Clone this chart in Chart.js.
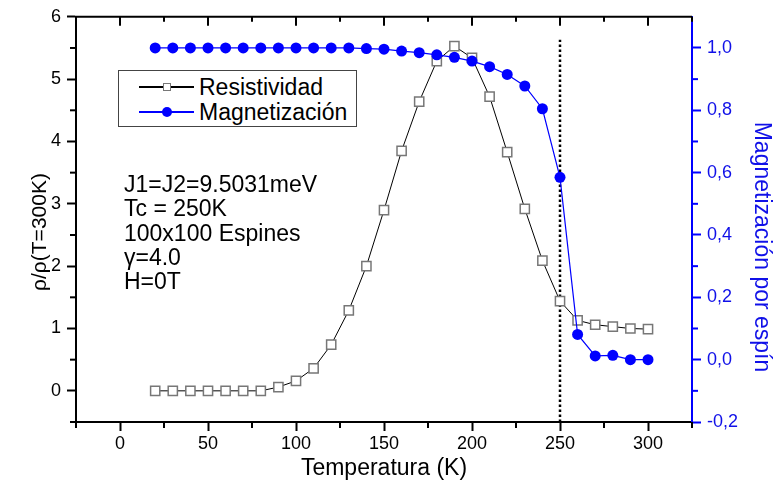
<!DOCTYPE html>
<html>
<head>
<meta charset="utf-8">
<title>Resistividad y magnetización</title>
<script src="https://cdn.jsdelivr.net/npm/chart.js@4.4.1/dist/chart.umd.min.js"></script>
<style>
  body { margin: 0; background: #fff; font-family: "Liberation Sans", Arial, sans-serif; }
  #wrap { position: relative; width: 774px; height: 491px; }
  #legend {
    position: absolute; left: 118px; top: 70px; width: 239px; height: 57px;
    border: 1px solid #444; background: #fff; box-sizing: border-box;
  }
  .row { position: absolute; left: 0; width: 100%; height: 26px; }
  .row .line { position: absolute; left: 20px; width: 55px; top: 12px; height: 0; border-top: 2px solid #000; }
  .row .mk { position: absolute; box-sizing: border-box; }
  .row .txt { position: absolute; left: 80px; top: 0; line-height: 26px; font-size: 23px; color: #000; white-space: nowrap; }
  #notes {
    position: absolute; left: 124px; top: 172px; font-size: 23px; line-height: 24.3px; color: #000;
  }
</style>
</head>
<body>
<div id="wrap">
  <canvas id="chart"></canvas>
  <div id="legend">
    <div class="row" style="top:3px">
      <span class="line"></span>
      <span class="mk" style="left:44px;top:9px;width:8px;height:8px;border:1px solid #777;background:#fff"></span>
      <span class="txt">Resistividad</span>
    </div>
    <div class="row" style="top:28px">
      <span class="line" style="border-top-color:#0000ff"></span>
      <span class="mk" style="left:43px;top:8px;width:10px;height:10px;border-radius:50%;background:#0000ff"></span>
      <span class="txt">Magnetización</span>
    </div>
  </div>
  <div id="notes">
    J1=J2=9.5031meV<br>
    Tc = 250K<br>
    100x100 Espines<br>
    γ=4.0<br>
    H=0T
  </div>
</div>
<script>
  // data
  const temps = [20, 30, 40, 50, 60, 70, 80, 90, 100, 110, 120, 130, 140, 150, 160,
    170, 180, 190, 200, 210, 220, 230, 240, 250, 260, 270, 280, 290, 300];
  const resistividad = [0, 0, 0, 0, 0, 0, 0, 0.06, 0.16, 0.36, 0.74, 1.29, 2.0, 2.9, 3.85,
    4.64, 5.29, 5.53, 5.34, 4.72, 3.83, 2.92, 2.09, 1.44, 1.13, 1.06, 1.03, 1.0, 0.99];
  const magnetizacion = [1.0, 1.0, 1.0, 1.0, 1.0, 1.0, 1.0, 1.0, 1.0, 1.0, 1.0, 1.0, 0.998, 0.996, 0.99,
    0.985, 0.978, 0.97, 0.958, 0.94, 0.915, 0.878, 0.805, 0.585, 0.081, 0.012, 0.014, 0.0, 0.0];
  const tcLine = [{ x: 250, y: -0.5 }, { x: 250, y: 5.63 }];

  const xTicks = [0, 50, 100, 150, 200, 250, 300];
  const leftTicks = [0, 1, 2, 3, 4, 5, 6];
  const rightTicks = [-0.2, 0, 0.2, 0.4, 0.6, 0.8, 1.0];

  const BLUE = "#0000ff";
  Chart.defaults.font.family = "'Liberation Sans', Arial, sans-serif";

  function setTicks(list) {
    return (scale) => { scale.ticks = list.map((v) => ({ value: v })); };
  }

  // frame top line, minor ticks and vertical axis titles
  const axisExtras = {
    id: "axisExtras",
    afterDraw(chart) {
      const { ctx, chartArea: a, scales } = chart;
      ctx.save();
      ctx.lineWidth = 2;
      ctx.strokeStyle = "#000";
      ctx.beginPath();
      ctx.moveTo(a.left - 1, a.top);
      ctx.lineTo(a.right, a.top);
      ctx.stroke();

      function tick(x1, y1, x2, y2) {
        ctx.beginPath();
        ctx.moveTo(x1, y1);
        ctx.lineTo(x2, y2);
        ctx.stroke();
      }

      // x: minor ticks below, top ticks inward
      const sx = scales.x;
      for (let v = sx.min; v <= sx.max + 1e-9; v += 50) {
        const px = sx.getPixelForValue(v);
        tick(px, a.bottom, px, a.bottom + 6);
        tick(px, a.top, px, a.top + 5);
      }
      xTicks.forEach((v) => {
        const px = sx.getPixelForValue(v);
        tick(px, a.top, px, a.top + 9);
      });

      // left minor ticks
      const sy = scales.y;
      for (let v = -0.5; v < sy.max; v += 1) {
        const py = sy.getPixelForValue(v);
        tick(a.left, py, a.left - 6, py);
      }

      // right minor ticks
      const sr = scales.y1;
      ctx.strokeStyle = BLUE;
      for (let k = 0; k < 7; k++) {
        const v = -0.1 + 0.2 * k;
        if (v >= sr.max - 1e-9) break;
        const py = sr.getPixelForValue(v);
        tick(a.right, py, a.right + 6, py);
      }

      // vertical titles
      ctx.textAlign = "center";
      ctx.textBaseline = "middle";
      ctx.fillStyle = "#000";
      ctx.font = "21px 'Liberation Sans', Arial, sans-serif";
      ctx.save();
      ctx.translate(40, 232);
      ctx.rotate(-Math.PI / 2);
      ctx.fillText("ρ/ρ(T=300K)", 0, 0);
      ctx.restore();

      ctx.fillStyle = "#1010e8";
      ctx.font = "23px 'Liberation Sans', Arial, sans-serif";
      ctx.save();
      ctx.translate(761, 247);
      ctx.rotate(Math.PI / 2);
      ctx.fillText("Magnetización por espín", 0, 0);
      ctx.restore();
      ctx.restore();
    },
  };

  new Chart(document.getElementById("chart"), {
    type: "line",
    data: {
      datasets: [
        {
          label: "Magnetización",
          data: temps.map((t, i) => ({ x: t, y: magnetizacion[i] })),
          yAxisID: "y1",
          borderColor: BLUE,
          borderWidth: 1.2,
          backgroundColor: BLUE,
          pointStyle: "circle",
          pointRadius: 5.5,
          pointBorderWidth: 0,
          pointBackgroundColor: BLUE,
          tension: 0,
        },
        {
          label: "Resistividad",
          data: temps.map((t, i) => ({ x: t, y: resistividad[i] })),
          yAxisID: "y",
          borderColor: "#000",
          borderWidth: 1,
          pointStyle: "rect",
          pointRadius: 6.5,
          pointBorderWidth: 1.5,
          pointBorderColor: "#777",
          pointBackgroundColor: "#fff",
          tension: 0,
        },
        {
          label: "Tc",
          data: tcLine,
          yAxisID: "y",
          borderColor: "#000",
          borderWidth: 2.5,
          borderDash: [2.5, 2.5],
          pointRadius: 0,
        },
      ],
    },
    options: {
      responsive: true,
      maintainAspectRatio: false,
      animation: false,
      layout: { padding: { top: 14, left: 0, right: 0, bottom: 0 } },
      plugins: { legend: { display: false }, tooltip: { enabled: false } },
      scales: {
        x: {
          type: "linear",
          position: "bottom",
          min: -25,
          max: 325,
          afterBuildTicks: setTicks(xTicks),
          afterFit: (s) => { s.height = 69; },
          ticks: { color: "#000", font: { size: 18 }, padding: 2, maxRotation: 0, autoSkip: false },
          grid: { drawOnChartArea: false, tickLength: 9, tickWidth: 2, tickColor: "#000" },
          border: { color: "#000", width: 2 },
          title: { display: true, text: "Temperatura (K)", color: "#000", font: { size: 23 }, padding: { top: 0, bottom: 9 } },
        },
        y: {
          type: "linear",
          position: "left",
          min: -0.5,
          max: 6,
          afterBuildTicks: setTicks(leftTicks),
          afterFit: (s) => { s.width = 76; },
          ticks: { color: "#000", font: { size: 18 }, padding: 6 },
          grid: { drawOnChartArea: false, tickLength: 9, tickWidth: 2, tickColor: "#000" },
          border: { color: "#000", width: 2 },
        },
        y1: {
          type: "linear",
          position: "right",
          min: -0.2,
          max: 1.1,
          afterBuildTicks: setTicks(rightTicks),
          afterFit: (s) => { s.width = 82; },
          ticks: {
            color: "#1010e8",
            font: { size: 18 },
            padding: 6,
            callback: (v) => v.toFixed(1).replace(".", ","),
          },
          grid: { drawOnChartArea: false, tickLength: 9, tickWidth: 2, tickColor: BLUE },
          border: { color: BLUE, width: 2 },
        },
      },
    },
    plugins: [axisExtras],
  });
</script>
</body>
</html>
